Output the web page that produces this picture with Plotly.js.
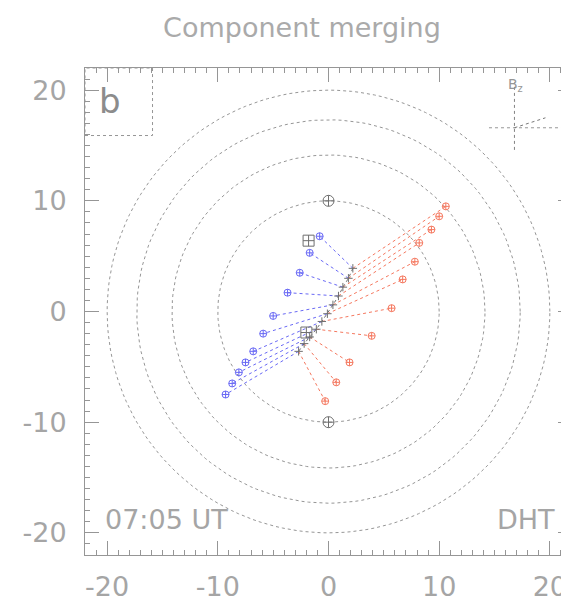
<!DOCTYPE html>
<html><head><meta charset="utf-8">
<script src="https://cdn.plot.ly/plotly-3.0.1.min.js"></script>
<style>html,body{margin:0;padding:0;overflow:hidden;background:#fff}</style>
</head><body>
<div id="plot" style="width:600px;height:605px"></div>
<script>
// Data
const tickVals = [-20, -10, 0, 10, 20];
const tickText = ['-20', '-10', '0', '10', '20'];
const circleRadii = [10, 14.14, 17.32, 20];
const centerX = [2.2, 1.8, 1.3, 0.9, 0.4, -0.1, -0.6, -1.1, -1.7, -2.2, -2.7];
const centerY = [3.9, 3.0, 2.2, 1.4, 0.6, -0.2, -0.9, -1.6, -2.3, -2.9, -3.6];
const blueEndX = [-0.8, -1.7, -2.6, -3.7, -5.0, -5.9, -6.8, -7.5, -8.1, -8.7, -9.3];
const blueEndY = [6.8, 5.3, 3.5, 1.7, -0.4, -2.0, -3.6, -4.6, -5.5, -6.5, -7.5];
const redEndX = [10.6, 10.0, 9.3, 8.2, 7.8, 6.7, 5.7, 3.9, 1.9, 0.7, -0.3];
const redEndY = [9.5, 8.6, 7.4, 6.2, 4.5, 2.9, 0.3, -2.2, -4.6, -6.4, -8.1];
const specialX = [0, 0, -1.8, -2.0];
const specialY = [10, -10, 6.4, -1.9];

const grey = 'rgb(150,150,150)';
const blue = 'rgb(105,105,245)';
const red = 'rgb(245,120,95)';
const traces = [];

// circles
circleRadii.forEach(r => {
  const xs = [], ys = [];
  for (let a = 0; a <= 360; a += 2) {
    xs.push(r * Math.cos(a * Math.PI / 180));
    ys.push(r * Math.sin(a * Math.PI / 180));
  }
  traces.push({x: xs, y: ys, mode: 'lines', line: {color: grey, width: 1, dash: 'dot'}, hoverinfo: 'skip'});
});

function segs(x0, y0, x1, y1) {
  const xs = [], ys = [];
  for (let i = 0; i < x0.length; i++) {
    xs.push(x0[i], x1[i], null);
    ys.push(y0[i], y1[i], null);
  }
  return {xs, ys};
}
const b = segs(centerX, centerY, blueEndX, blueEndY);
traces.push({x: b.xs, y: b.ys, mode: 'lines', line: {color: blue, width: 1, dash: 'dot'}});
const rr = segs(centerX, centerY, redEndX, redEndY);
traces.push({x: rr.xs, y: rr.ys, mode: 'lines', line: {color: red, width: 1, dash: 'dot'}});
traces.push({x: blueEndX, y: blueEndY, mode: 'markers', marker: {symbol: 'circle-cross-open', size: 7, color: blue, line: {width: 1}}});
traces.push({x: redEndX, y: redEndY, mode: 'markers', marker: {symbol: 'circle-cross-open', size: 7, color: red, line: {width: 1}}});
// central merging line
traces.push({x: centerX, y: centerY, mode: 'lines+markers', line: {color: 'rgb(110,110,110)', width: 1, dash: 'dot'},
  marker: {symbol: 'cross-thin-open', size: 6, color: 'rgb(110,110,110)', line: {width: 1, color: 'rgb(110,110,110)'}}});
traces.push({x: specialX, y: specialY, mode: 'markers',
  marker: {symbol: ['circle-cross-open', 'circle-cross-open', 'square-cross-open', 'square-cross-open'], size: 11,
    color: 'rgb(110,110,110)', line: {width: 1}}});

const axisCommon = {
  range: [-22, 22], tickvals: tickVals, ticktext: tickText, ticks: 'inside', ticklen: 14,
  tickcolor: grey, tickwidth: 1, showgrid: false, zeroline: false, showline: true, linecolor: grey,
  linewidth: 1, mirror: 'ticks',
  minor: {dtick: 1, ticks: 'inside', ticklen: 5, tickcolor: grey, showgrid: false},
  tickfont: {family: 'DejaVu Sans', size: 27, color: 'rgb(165,165,165)'}
};

const layout = {
  width: 600, height: 605,
  margin: {l: 85, r: 28, t: 68, b: 50},
  showlegend: false,
  plot_bgcolor: '#fff', paper_bgcolor: '#fff',
  title: {text: 'Component merging', x: 302 / 600, xanchor: 'center', xref: 'container', y: 0.955, yanchor: 'middle',
    font: {family: 'DejaVu Sans', size: 27, color: 'rgb(170,170,170)'}},
  xaxis: Object.assign({}, axisCommon, {ticklabelstandoff: 8}),
  yaxis: Object.assign({}, axisCommon, {scaleanchor: 'x', ticklabelstandoff: 12}),
  shapes: [
    {type: 'rect', xref: 'x', yref: 'y', x0: -22, x1: -15.9, y0: 15.9, y1: 22, line: {color: grey, width: 1, dash: 'dot'}},
    {type: 'line', xref: 'x', yref: 'y', x0: 16.8, x1: 16.8, y0: 14.6, y1: 20.7, line: {color: 'rgb(130,130,130)', width: 1, dash: 'dot'}},
    {type: 'line', xref: 'x', yref: 'y', x0: 14.5, x1: 22, y0: 16.6, y1: 16.6, line: {color: grey, width: 1, dash: 'dot'}},
    {type: 'line', xref: 'x', yref: 'y', x0: 16.8, x1: 19.6, y0: 16.6, y1: 17.5, line: {color: 'rgb(120,120,120)', width: 1, dash: 'dot'}}
  ],
  annotations: [
    {text: 'b', xref: 'x', yref: 'y', x: -19.7, y: 19.0, showarrow: false, font: {family: 'DejaVu Sans', size: 34, color: 'rgb(140,140,140)'}},
    {text: 'B<sub>z</sub>', xref: 'x', yref: 'y', x: 16.9, y: 20.5, showarrow: false, font: {family: 'DejaVu Sans', size: 14, color: 'rgb(150,150,150)'}},
    {text: '07:05 UT', xref: 'x', yref: 'y', x: -14.6, y: -18.8, showarrow: false, font: {family: 'DejaVu Sans', size: 27, color: 'rgb(165,165,165)'}},
    {text: 'DHT', xref: 'x', yref: 'y', x: 15.0, y: -18.8, xanchor: 'left', showarrow: false, font: {family: 'DejaVu Sans', size: 27, color: 'rgb(165,165,165)'}}
  ]
};

Plotly.newPlot('plot', traces, layout, {staticPlot: true, displayModeBar: false});
</script>
</body></html>
